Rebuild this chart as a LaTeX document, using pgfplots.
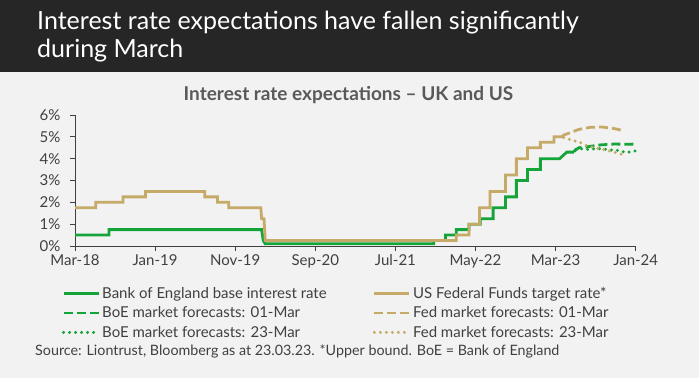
\documentclass[border=0pt]{standalone}
\usepackage{fontspec}
\setmainfont{Lato}
\usepackage{pgfplots}
\pgfplotsset{compat=1.18}
\definecolor{bggray}{RGB}{242,242,242}
\definecolor{headgray}{RGB}{38,38,38}
\definecolor{subgray}{RGB}{89,89,89}
\definecolor{labelgray}{RGB}{64,64,64}
\definecolor{axisgray}{RGB}{64,64,64}
\definecolor{boegreen}{RGB}{20,164,58}
\definecolor{fedgold}{RGB}{197,170,104}
\begin{document}
\begin{tikzpicture}[x=1pt,y=1pt]
\fill[bggray] (0,0) rectangle (699,-378);
\fill[headgray] (0,0) rectangle (699,-72);
\node[anchor=base west, inner sep=0, text=white, font=\fontsize{25}{25}\selectfont] at (37,-29) {Interest rate expectations have fallen significantly};
\node[anchor=base west, inner sep=0, text=white, font=\fontsize{25}{25}\selectfont] at (37,-57) {during March};
\node[anchor=base, inner sep=0, text=subgray, font=\fontsize{19}{19}\selectfont\bfseries] at (348.5,-100) {Interest rate expectations -- UK and US};
\node[anchor=base west, inner sep=0, text=labelgray, font=\fontsize{14.3}{14.3}\selectfont] at (35,-355) {Source: Liontrust, Bloomberg as at 23.03.23. *Upper bound. BoE = Bank of England};
\begin{axis}[
  at={(75pt,-246pt)}, anchor=south west,
  scale only axis, width=560.7pt, height=131pt,
  xmin=0, xmax=70, ymin=0, ymax=6,
  axis lines=left, axis line style={-, draw=axisgray, line width=0.9pt},
  xtick={0,10,...,70},
  xticklabels={Mar-18,Jan-19,Nov-19,Sep-20,Jul-21,May-22,Mar-23,Jan-24},
  ytick={0,1,...,6},
  yticklabels={0\%,1\%,2\%,3\%,4\%,5\%,6\%},
  tick align=outside, major tick length=5pt,
  tick style={draw=axisgray, line width=0.9pt},
  ticklabel style={font=\fontsize{15}{15}\selectfont, text=labelgray},
  yticklabel style={xshift=-6pt},
  clip=false,
  legend columns=2,
  legend cell align=left,
  legend image code/.code={\draw[#1] (0pt,0pt) -- (35pt,0pt);},
  legend style={draw=none, fill=none, at={(0,0)}, anchor=north west,
    xshift=-13.3pt, yshift=-39pt, inner sep=0pt, row sep=2.8pt,
    nodes={inner sep=2pt, font=\fontsize{15}{15}\selectfont, text=labelgray},
    /tikz/every even column/.append style={column sep=44pt},
    /tikz/every odd column/.append style={column sep=0pt}},
]
\addplot[draw=boegreen, line width=2.8pt] coordinates {
(0,0.5)(4.25,0.5)(4.25,0.75)(23.3,0.75)(23.5,0.25)(23.75,0.1)(44.8,0.1)(44.8,0.25)
(46.25,0.25)(46.25,0.5)(47.6,0.5)(47.6,0.75)(49.2,0.75)(49.2,1.0)(50.6,1.0)(50.6,1.25)
(52.2,1.25)(52.2,1.75)(53.75,1.75)(53.75,2.25)(55.1,2.25)(55.1,3.0)(56.5,3.0)(56.5,3.5)
(58.1,3.5)(58.1,4.0)(60.5,4.0)(61.4,4.3)(62.3,4.3)};
\addlegendentry{Bank of England base interest rate}
\addplot[draw=fedgold, line width=2.8pt] coordinates {
(0,1.75)(2.6,1.75)(2.6,2.0)(6.0,2.0)(6.0,2.25)(8.8,2.25)(8.8,2.5)(16.2,2.5)(16.2,2.25)
(17.8,2.25)(17.8,2.0)(19.2,2.0)(19.2,1.75)(23.2,1.75)(23.3,1.25)(23.6,1.25)(23.75,0.25)
(47.6,0.25)(47.6,0.5)(49.2,0.5)(49.2,1.0)(50.5,1.0)(50.5,1.75)(51.8,1.75)(51.8,2.5)
(53.75,2.5)(53.75,3.25)(55.1,3.25)(55.1,4.0)(56.5,4.0)(56.5,4.5)(58.1,4.5)(58.1,4.75)
(59.8,4.75)(59.8,5.0)(60.8,5.0)};
\addlegendentry{US Federal Funds target rate*}
\addplot[draw=boegreen, line width=2.8pt, dash pattern=on 9pt off 4pt] coordinates {
(62.3,4.32)(62.5,4.4)(62.9,4.5)(64.0,4.55)(65.6,4.63)(67.3,4.67)(69.0,4.66)(70,4.67)};
\addlegendentry{BoE market forecasts: 01-Mar}
\addplot[draw=fedgold, line width=2.8pt, dash pattern=on 9pt off 4pt] coordinates {
(60.8,5.0)(61.0,5.08)(61.9,5.2)(62.9,5.34)(64.4,5.44)(65.8,5.45)(67.3,5.38)(68.5,5.28)};
\addlegendentry{Fed market forecasts: 01-Mar}
\addplot[draw=boegreen, line width=3.3pt, line cap=round, dash pattern=on 0pt off 6pt] coordinates {
(62.5,4.42)(63.2,4.45)(64.0,4.43)(65.4,4.46)(66.1,4.44)(66.7,4.4)(67.5,4.4)(68.1,4.35)(68.8,4.28)(70,4.36)};
\addlegendentry{BoE market forecasts: 23-Mar}
\addplot[draw=fedgold, line width=3.3pt, line cap=round, dash pattern=on 0pt off 6pt] coordinates {
(61.0,4.97)(61.9,4.86)(62.7,4.78)(63.4,4.7)(64.0,4.58)(64.9,4.5)(65.6,4.44)(66.3,4.4)(67.0,4.32)(67.8,4.25)(68.5,4.17)};
\addlegendentry{Fed market forecasts: 23-Mar}
\end{axis}
\end{tikzpicture}
\end{document}
